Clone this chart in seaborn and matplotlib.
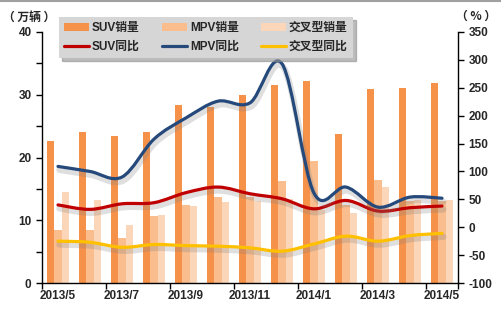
import numpy as np
import pandas as pd
import matplotlib
matplotlib.use("Agg")
import matplotlib.pyplot as plt
import seaborn as sns
from matplotlib.path import Path
from matplotlib.patches import PathPatch, Patch
from matplotlib.lines import Line2D
import matplotlib.patheffects as pe

# ---------------- data ----------------
months = ["2013/5", "2013/6", "2013/7", "2013/8", "2013/9", "2013/10", "2013/11",
          "2013/12", "2014/1", "2014/2", "2014/3", "2014/4", "2014/5"]
suv_sales = [22.7, 24.0, 23.4, 24.0, 28.3, 28.0, 30.0, 31.5, 32.2, 23.7, 30.9, 31.0, 31.8]
mpv_sales = [8.5, 8.5, 7.2, 10.6, 12.4, 13.7, 13.7, 16.3, 19.5, 12.5, 16.4, 13.0, 13.0]
cross_sales = [14.5, 13.2, 9.2, 10.9, 12.2, 12.9, 13.0, 13.4, 11.7, 11.2, 15.3, 13.3, 13.3]
suv_yoy = [40, 32, 42, 44, 62, 72, 60, 51, 33, 48, 29, 35, 38]
mpv_yoy = [109, 100, 90, 158, 196, 226, 223, 293, 61, 72, 36, 54, 52]
cross_yoy = [-25, -27, -36, -31, -33, -34, -37, -43, -30, -16, -25, -15, -11]
bar_names = ["SUV销量", "MPV销量", "交叉型销量"]
line_names = ["SUV同比", "MPV同比", "交叉型同比"]

bar_colors = ["#F6914A", "#F9BD8E", "#FCD6B8"]
line_colors = ["#C00000", "#24497A", "#FFC000"]

sns.set_theme(style="white")
plt.rcParams["font.family"] = ["Liberation Sans", "Noto Sans CJK SC", "DejaVu Sans"]
plt.rcParams["font.weight"] = "bold"

fig = plt.figure(figsize=(5.01, 3.23), dpi=100)
ax = fig.add_axes([42 / 501, 1 - 283 / 323, 416 / 501, 251 / 323])

df = pd.DataFrame({
    "month": months * 3,
    "value": suv_sales + mpv_sales + cross_sales,
    "type": [bar_names[0]] * len(months) + [bar_names[1]] * len(months) + [bar_names[2]] * len(months),
})
sns.barplot(data=df, x="month", y="value", hue="type", hue_order=bar_names,
            palette=bar_colors, width=0.66, saturation=1, linewidth=0,
            legend=False, ax=ax, errorbar=None)

n = len(months)
ax.set_xlim(-0.5, n - 0.5)
ax.set_ylim(0, 40)
ax.set_xlabel("")
ax.set_ylabel("")
ax.set_yticks([0, 10, 20, 30, 40])
ax.set_yticklabels(["0", "10", "20", "30", "40"], fontweight="bold", fontsize=8.5)
ax.set_yticks([5, 15, 25, 35], minor=True)
major_x = list(np.arange(-0.5, n - 0.5, 2)) + [n - 0.5]
ax.set_xticks(major_x)
ax.set_xticklabels([""] * len(major_x))
ax.set_xticks(list(range(0, n, 2)), minor=True)
ax.set_xticklabels([months[i] for i in range(0, n, 2)], minor=True, fontweight="bold", fontsize=8.5)
ax.tick_params(axis="x", which="minor", length=0, pad=5)
ax.tick_params(axis="x", which="major", length=4, width=1, direction="out", color="black", bottom=True)
ax.tick_params(axis="y", which="both", length=4, width=1, direction="out", color="black", left=True)
for s in ["top", "right"]:
    ax.spines[s].set_visible(False)
for s in ["left", "bottom"]:
    ax.spines[s].set_color("black")
    ax.spines[s].set_linewidth(1)

ax2 = ax.twinx()
ax2.set_ylim(-100, 350)
rticks = list(range(-100, 351, 50))
ax2.set_yticks(rticks)
ax2.set_yticklabels([str(t) for t in rticks], fontweight="bold", fontsize=8.5)
ax2.tick_params(axis="y", length=4, width=1, direction="out", color="black", right=True)
for s in ["top", "left", "bottom"]:
    ax2.spines[s].set_visible(False)
ax2.spines["right"].set_color("black")
ax2.spines["right"].set_linewidth(1)
ax2.grid(False)
ax.grid(False)


def smooth_path(xs, ys):
    pts = np.column_stack([xs, ys]).astype(float)
    m = len(pts)
    verts = [tuple(pts[0])]
    codes = [Path.MOVETO]
    for i in range(m - 1):
        p0 = pts[max(i - 1, 0)]
        p1 = pts[i]
        p2 = pts[i + 1]
        p3 = pts[min(i + 2, m - 1)]
        c1 = p1 + (p2 - p0) / 6.0
        c2 = p2 - (p3 - p1) / 6.0
        verts += [tuple(c1), tuple(c2), tuple(p2)]
        codes += [Path.CURVE4] * 3
    return Path(verts, codes)


xs = np.arange(n)
for vals, col in [(cross_yoy, line_colors[2]), (suv_yoy, line_colors[0]), (mpv_yoy, line_colors[1])]:
    patch = PathPatch(smooth_path(xs, vals), fill=False, edgecolor=col, lw=2.3,
                      capstyle="round", joinstyle="round", transform=ax2.transData)
    patch.set_path_effects([
        pe.SimpleLineShadow(offset=(1.0, -2.5), shadow_color="#808080", alpha=0.25, linewidth=4.5),
        pe.Normal(),
    ])
    ax2.add_patch(patch)

handles = [
    Patch(facecolor=bar_colors[0], edgecolor="none"),
    Line2D([], [], color=line_colors[0], lw=2.3),
    Patch(facecolor=bar_colors[1], edgecolor="none"),
    Line2D([], [], color=line_colors[1], lw=2.3),
    Patch(facecolor=bar_colors[2], edgecolor="none"),
    Line2D([], [], color=line_colors[2], lw=2.3),
]
labels = [bar_names[0], line_names[0], bar_names[1], line_names[1], bar_names[2], line_names[2]]
leg = fig.legend(handles, labels, ncol=3, loc="upper left",
                 bbox_to_anchor=(53 / 501, 1 - 11 / 323), frameon=True,
                 facecolor="#D6D6D6", edgecolor="none", fancybox=False,
                 shadow={"color": "#909090", "alpha": 0.6}, framealpha=1,
                 prop={"size": 8.5, "weight": "bold"},
                 handlelength=2.1, handletextpad=0.25, columnspacing=1.9,
                 labelspacing=0.55, borderpad=0.45)

cjk = ["Noto Sans CJK SC", "DejaVu Sans"]
fig.text(3 / 501, 1 - 17 / 323, "（ 万辆 ）", fontsize=8.5, fontweight="bold",
         va="center", ha="left", family=cjk)
fig.text(476 / 501, 1 - 16 / 323, "（ % ）", fontsize=8.5, fontweight="bold",
         va="center", ha="center", family=cjk)

fig.add_artist(Line2D([0, 1], [0.997, 0.997], transform=fig.transFigure, color="#A0A0A0", lw=1.5))

fig.savefig("out.png", dpi=100)
